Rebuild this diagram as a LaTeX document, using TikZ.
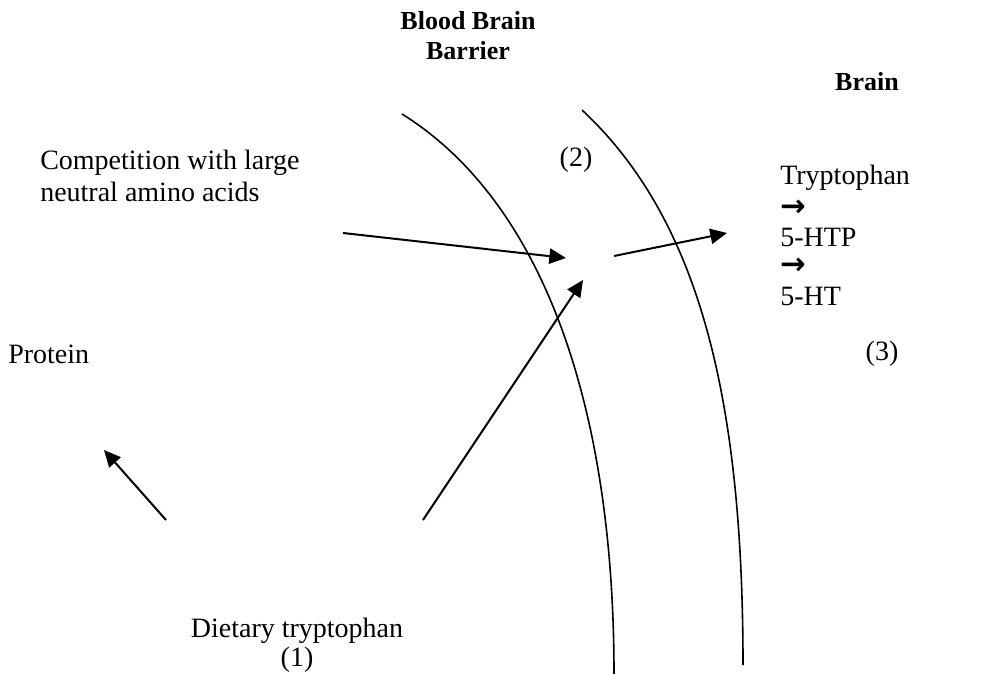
\documentclass[tikz,border=0pt]{standalone}
\usepackage{fontspec}
\setmainfont{Liberation Serif}
\newfontfamily\symfont{DejaVu Sans}
\usetikzlibrary{arrows.meta}
\tikzset{
  lbl/.style={inner sep=0pt, font=\fontsize{21}{22}\selectfont},
  ttl/.style={inner sep=0pt, font=\fontsize{19.5}{22}\selectfont\bfseries},
  sym/.style={inner sep=0pt, font=\fontsize{23}{22}\selectfont\symfont\bfseries},
  arr/.style={-{Triangle[length=12.5pt,width=11.5pt]}, line width=1.5pt},
  wall/.style={line width=1.2pt}
}
\begin{document}
\begin{tikzpicture}[x=0.75pt,y=-0.75pt]
\useasboundingbox (0,0) rectangle (986,674);
% titles
\node[ttl] (bbb1) at (468,21) {Blood Brain};
\node[ttl] (bbb2) at (468,51) {Barrier};
\node[ttl] (brain) at (867,82) {Brain};
% barrier walls
\draw[wall] (402,114) .. controls (540,200) and (614,400) .. (614,674);
\draw[wall] (582,110) .. controls (700,220) and (743,400) .. (743,665);
% texts
\node[lbl, anchor=west] (comp1) at (40,163) {Competition with large};
\node[lbl, anchor=west] (comp2) at (40,192) {neutral amino acids};
\node[lbl] (two) at (576,160) {(2)};
\node[lbl, anchor=west] (t1) at (780,178) {Tryptophan};
\node[sym, anchor=west] (t2) at (780,208) {→};
\node[lbl, anchor=west] (t3) at (780,237) {5-HTP};
\node[sym, anchor=west] (t4) at (780,266) {→};
\node[lbl, anchor=west] (t5) at (780,296) {5-HT};
\node[lbl] (three) at (882,354) {(3)};
\node[lbl, anchor=west] (prot) at (8,354) {Protein};
\node[lbl] (diet) at (297,631) {Dietary tryptophan};
\node[lbl] (one) at (297,660) {(1)};
% arrow end points
\coordinate (a1s) at (343,233);
\coordinate (a1e) at (566,258);
\coordinate (a2s) at (614,256);
\coordinate (a2e) at (727,233);
\coordinate (a3s) at (423,520);
\coordinate (a3e) at (583,280);
\coordinate (a4s) at (166,520);
\coordinate (a4e) at (104,450);
\draw[arr] (a1s) -- (a1e);
\draw[arr] (a2s) -- (a2e);
\draw[arr] (a3s) -- (a3e);
\draw[arr] (a4s) -- (a4e);
\end{tikzpicture}
\end{document}
